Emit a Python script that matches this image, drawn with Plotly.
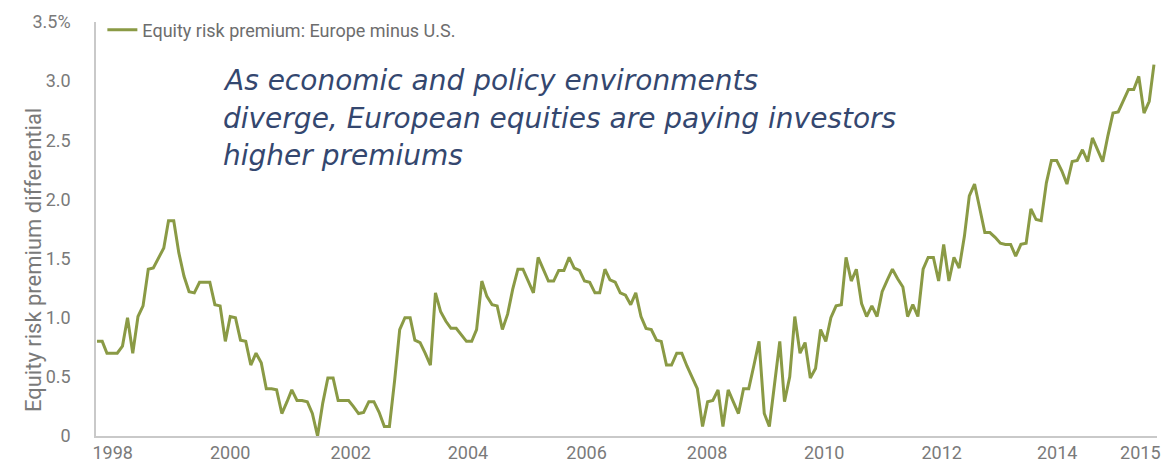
import pandas as pd
import plotly.graph_objects as go

# Monthly equity risk premium differential, Europe minus U.S. (percentage points)
premium = [
    0.80, 0.80, 0.70, 0.70, 0.70, 0.76, 1.00, 0.70, 1.01, 1.10,
    1.41, 1.42, 1.51, 1.59, 1.82, 1.82, 1.55, 1.35, 1.22, 1.21,
    1.30, 1.30, 1.30, 1.11, 1.10, 0.80, 1.01, 1.00, 0.81, 0.80,
    0.60, 0.70, 0.62, 0.40, 0.40, 0.39, 0.19, 0.29, 0.39, 0.30,
    0.30, 0.29, 0.19, 0.00, 0.28, 0.49, 0.49, 0.30, 0.30, 0.30,
    0.25, 0.19, 0.20, 0.29, 0.29, 0.20, 0.08, 0.08, 0.47, 0.90,
    1.00, 1.00, 0.81, 0.79, 0.70, 0.60, 1.21, 1.05, 0.97, 0.91,
    0.91, 0.86, 0.80, 0.80, 0.90, 1.31, 1.18, 1.11, 1.10, 0.90,
    1.03, 1.24, 1.41, 1.41, 1.31, 1.21, 1.51, 1.41, 1.31, 1.31,
    1.40, 1.40, 1.51, 1.42, 1.40, 1.31, 1.30, 1.21, 1.21, 1.41,
    1.32, 1.30, 1.21, 1.19, 1.11, 1.21, 1.01, 0.91, 0.90, 0.81,
    0.80, 0.60, 0.60, 0.70, 0.70, 0.59, 0.50, 0.40, 0.08, 0.29,
    0.30, 0.39, 0.08, 0.39, 0.29, 0.19, 0.40, 0.40, 0.60, 0.80,
    0.19, 0.08, 0.44, 0.80, 0.29, 0.50, 1.01, 0.70, 0.79, 0.49,
    0.57, 0.90, 0.80, 1.00, 1.10, 1.11, 1.51, 1.31, 1.41, 1.12,
    1.01, 1.10, 1.01, 1.22, 1.32, 1.41, 1.33, 1.26, 1.01, 1.11,
    1.01, 1.41, 1.51, 1.51, 1.31, 1.62, 1.31, 1.51, 1.42, 1.69,
    2.03, 2.13, 1.93, 1.72, 1.72, 1.68, 1.63, 1.62, 1.62, 1.52,
    1.62, 1.63, 1.92, 1.83, 1.82, 2.14, 2.33, 2.33, 2.24, 2.13,
    2.32, 2.33, 2.42, 2.32, 2.52, 2.42, 2.32, 2.54, 2.73, 2.74,
    2.83, 2.93, 2.93, 3.04, 2.73, 2.83, 3.14,
]
dates = pd.date_range("1998-01-01", periods=len(premium), freq="MS")

# Axis labels as printed on the reference chart
x_tick_labels = ["1998", "2000", "2002", "2004", "2006", "2008", "2010", "2012", "2014", "2015"]
x_tick_dates = ["1998-04-04", "2000-03-01", "2002-02-13", "2004-01-10", "2005-12-13",
                "2007-11-28", "2009-10-22", "2011-09-19", "2013-08-04", "2014-12-10"]
y_tick_values = [0, 0.5, 1.0, 1.5, 2.0, 2.5, 3.0, 3.5]
y_tick_labels = ["0", "0.5", "1.0", "1.5", "2.0", "2.5", "3.0", "3.5%"]

series_name = "Equity risk premium: Europe minus U.S."
y_title = "Equity risk premium differential"
note_lines = [
    "As economic and policy environments",
    "diverge, European equities are paying investors",
    "higher premiums",
]

GREEN = "#8a9a45"
GRAY = "#7a7a7a"
AXIS = "#c9c9c9"
NAVY = "#34476f"
FONT = "Roboto, Open Sans, sans-serif"

fig = go.Figure()
fig.add_trace(go.Scatter(
    x=dates, y=premium, mode="lines", name=series_name,
    line=dict(color=GREEN, width=3),
))

annotations = [
    dict(text=y_title, xref="paper", yref="paper", x=-0.073, y=0.425,
         textangle=-90, showarrow=False, font=dict(size=22, color=GRAY)),
]
note_y = [0.858, 0.767, 0.677]
for line, yy in zip(note_lines, note_y):
    annotations.append(dict(
        text=line, xref="paper", yref="paper", x=0.118, y=yy,
        xanchor="left", yanchor="middle", align="left", showarrow=False,
        font=dict(family="DejaVu Sans, sans-serif", size=28, color=NAVY, style="italic"),
    ))

fig.update_layout(
    width=1166, height=470,
    margin=dict(l=96, r=6, t=22, b=34),
    paper_bgcolor="white", plot_bgcolor="white",
    font=dict(family=FONT, color=GRAY),
    showlegend=True,
    legend=dict(x=0.006, y=1.025, xanchor="left", yanchor="top",
                bgcolor="rgba(0,0,0,0)", font=dict(size=18, color="#6d6d6d")),
    xaxis=dict(
        type="date", range=["1997-12-26", "2015-03-19"],
        showgrid=False, zeroline=False, showline=True, linecolor=AXIS, linewidth=1.5,
        tickmode="array", tickvals=x_tick_dates, ticktext=x_tick_labels,
        ticks="", tickfont=dict(size=18, color=GRAY),
    ),
    yaxis=dict(
        range=[0, 3.5], showgrid=False, zeroline=False,
        showline=True, linecolor=AXIS, linewidth=1.5,
        tickmode="array", tickvals=y_tick_values, ticktext=y_tick_labels,
        ticks="", ticklabelstandoff=20, tickfont=dict(size=18, color=GRAY),
    ),
    annotations=annotations,
)

fig.write_html("out.html")
